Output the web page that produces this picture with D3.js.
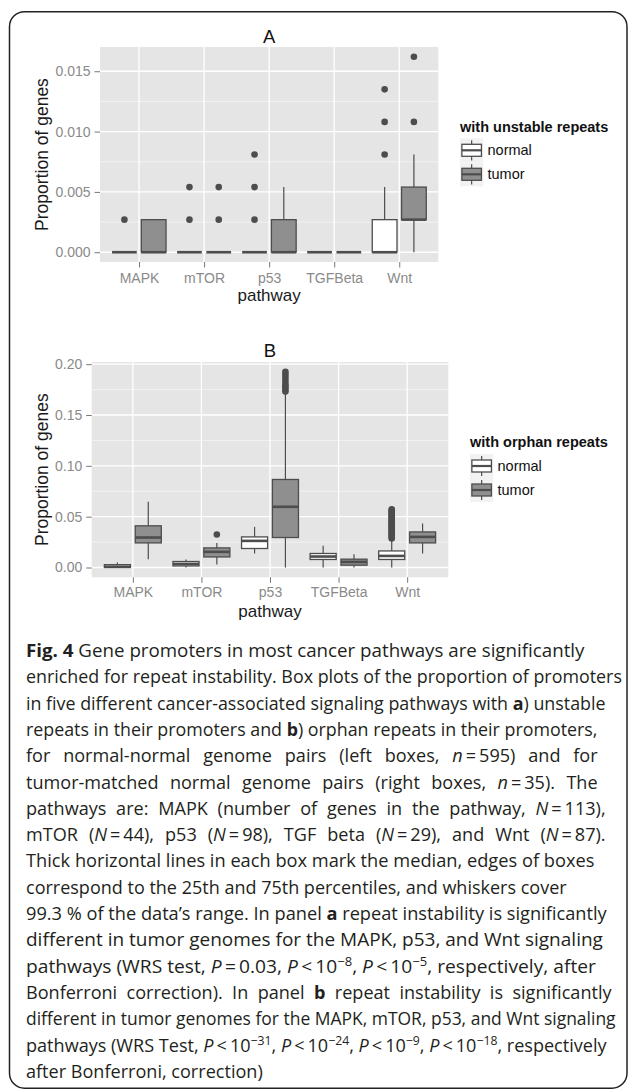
<!DOCTYPE html>
<html>
<head>
<meta charset="utf-8">
<script src="https://cdn.jsdelivr.net/npm/d3@7"></script>
<style>
  body { margin: 0; background: #fff; }
  svg text { font-family: "Liberation Sans", Arial, sans-serif; }
  .cap text { font-family: "Open Sans", sans-serif; }
</style>
</head>
<body>
<svg id="fig" width="629" height="1090"></svg>
<script>
// ---- data ----
const pathways = ["MAPK", "mTOR", "p53", "TGFBeta", "Wnt"];
const groups = ["normal", "tumor"];

// panel A: [lower whisker, q1, median, q3, upper whisker]
const unstableNormal = [
  [0, 0, 0, 0, 0],
  [0, 0, 0, 0, 0],
  [0, 0, 0, 0, 0],
  [0, 0, 0, 0, 0],
  [0, 0, 0, 0.0027, 0.0054]
];
const unstableTumor = [
  [0, 0, 0, 0.0027, 0.0027],
  [0, 0, 0, 0, 0],
  [0, 0, 0, 0.0027, 0.0054],
  [0, 0, 0, 0, 0],
  [0, 0.0027, 0.0027, 0.0054, 0.0081]
];
const unstableNormalOut = [[0.0027], [0.0027, 0.0054], [0.0027, 0.0054, 0.0081], [], [0.0081, 0.0108, 0.0135]];
const unstableTumorOut = [[], [0.0027, 0.0054], [], [], [0.0108, 0.0162]];

// panel B
const orphanNormal = [
  [0, 0, 0.0008, 0.0028, 0.005],
  [0, 0.0016, 0.0035, 0.0059, 0.0079],
  [0.0138, 0.0187, 0.0262, 0.0301, 0.040],
  [0, 0.0079, 0.0108, 0.0138, 0.0213],
  [0, 0.0079, 0.0114, 0.0163, 0.0269]
];
const orphanTumor = [
  [0.0082, 0.0242, 0.0295, 0.041, 0.0646],
  [0.003, 0.0104, 0.0154, 0.0193, 0.0242],
  [0, 0.0295, 0.0597, 0.0866, 0.171],
  [0, 0.0023, 0.0055, 0.0082, 0.0131],
  [0.0138, 0.0242, 0.0301, 0.035, 0.0433]
];
const orphanNormalOut = [[], [], [], [],
  [0.0285, 0.0298, 0.031, 0.0322, 0.0335, 0.0345, 0.0357, 0.037, 0.0381, 0.0393, 0.0405, 0.0417, 0.043,
   0.0441, 0.0453, 0.0465, 0.0477, 0.049, 0.0502, 0.0514, 0.0526, 0.0538, 0.055, 0.0562, 0.0572]];
const orphanTumorOut = [[], [0.0325], [0.173, 0.175, 0.177, 0.179, 0.181, 0.184, 0.187, 0.19, 0.1925], [], []];

const ticksA = [0, 0.005, 0.010, 0.015];
const minorA = [0.0025, 0.0075, 0.0125];
const ticksB = [0, 0.05, 0.10, 0.15, 0.20];
const minorB = [0.025, 0.075, 0.125, 0.175];

const captionLines = [
  [["Fig. 4", "b"], [" Gene promoters in most cancer pathways are significantly"]],
  [["enriched for repeat instability. Box plots of the proportion of promoters"]],
  [["in five different cancer-associated signaling pathways with "], ["a", "b"], [") unstable"]],
  [["repeats in their promoters and "], ["b", "b"], [") orphan repeats in their promoters,"]],
  [["for normal-normal genome pairs (left boxes, "], ["n", "i"], ["\u2009=\u2009595) and for"]],
  [["tumor-matched normal genome pairs (right boxes, "], ["n", "i"], ["\u2009=\u200935). The"]],
  [["pathways are: MAPK (number of genes in the pathway, "], ["N", "i"], ["\u2009=\u2009113),"]],
  [["mTOR ("], ["N", "i"], ["\u2009=\u200944), p53 ("], ["N", "i"], ["\u2009=\u200998), TGF beta ("], ["N", "i"], ["\u2009=\u200929), and Wnt ("], ["N", "i"], ["\u2009=\u200987)."]],
  [["Thick horizontal lines in each box mark the median, edges of boxes"]],
  [["correspond to the 25th and 75th percentiles, and whiskers cover"]],
  [["99.3 % of the data\u2019s range. In panel "], ["a", "b"], [" repeat instability is significantly"]],
  [["different in tumor genomes for the MAPK, p53, and Wnt signaling"]],
  [["pathways (WRS test, "], ["P", "i"], ["\u2009=\u20090.03, "], ["P", "i"], ["\u2009<\u200910"], ["\u22128", "s"], [", "], ["P", "i"], ["\u2009<\u200910"], ["\u22125", "s"], [", respectively, after"]],
  [["Bonferroni correction). In panel "], ["b", "b"], [" repeat instability is significantly"]],
  [["different in tumor genomes for the MAPK, mTOR, p53, and Wnt signaling"]],
  [["pathways (WRS Test, "], ["P", "i"], ["\u2009<\u200910"], ["\u221231", "s"], [", "], ["P", "i"], ["\u2009<\u200910"], ["\u221224", "s"], [", "], ["P", "i"], ["\u2009<\u200910"], ["\u22129", "s"], [", "], ["P", "i"], ["\u2009<\u200910"], ["\u221218", "s"], [", respectively"]],
  [["after Bonferroni, correction)"]]
];
// right end of each caption line (last line ragged)
const captionEnds = [585, 622, 606, 598, 598, 598, 606, 606, 595, 567, 607, 603, 596, 612, 616, 607, null];
// lines set with visibly stretched word spacing
const captionStretched = [4, 5, 6, 7, 13];

// ---- drawing ----
const svg = d3.select("#fig");
svg.append("rect").attr("width", 629).attr("height", 1090).attr("fill", "#fff");
svg.append("rect")
  .attr("x", 9.5).attr("y", 11.7).attr("width", 617.5).attr("height", 1076.5)
  .attr("rx", 15).attr("fill", "none").attr("stroke", "#222").attr("stroke-width", 1.5);

function drawPanel(p) {
  const g = svg.append("g");
  const x = d3.scalePoint().domain(pathways).range([p.left, p.right]).padding(0.6);
  const all = [].concat(...p.normal, ...p.tumor, ...p.normalOut, ...p.tumorOut);
  const [mn, mx] = d3.extent(all);
  const pad = (mx - mn) * 0.05;
  const y = d3.scaleLinear().domain([mn - pad, mx + pad]).range([p.bottom, p.top]);
  const step = x.step();

  g.append("rect")
    .attr("x", p.left).attr("y", p.top)
    .attr("width", p.right - p.left).attr("height", p.bottom - p.top)
    .attr("fill", "#e5e5e5");

  g.selectAll(".minor").data(p.minor).join("line")
    .attr("x1", p.left).attr("x2", p.right)
    .attr("y1", d => y(d)).attr("y2", d => y(d))
    .attr("stroke", "#f2f2f2").attr("stroke-width", 1);
  g.selectAll(".major").data(p.ticks).join("line")
    .attr("x1", p.left).attr("x2", p.right)
    .attr("y1", d => y(d)).attr("y2", d => y(d))
    .attr("stroke", "#fff").attr("stroke-width", 1.3);
  g.selectAll(".vgrid").data(pathways).join("line")
    .attr("x1", d => x(d)).attr("x2", d => x(d))
    .attr("y1", p.top).attr("y2", p.bottom)
    .attr("stroke", "#fff").attr("stroke-width", 1.3);

  const series = [
    { stats: p.normal, out: p.normalOut, fill: "#ffffff", off: -0.225 },
    { stats: p.tumor, out: p.tumorOut, fill: "#8f8f8f", off: 0.225 }
  ];
  const bw = 0.38 * step;
  const stroke = "#4d4d4d";
  series.forEach(s => {
    s.stats.forEach((st, i) => {
      const cx = x(pathways[i]) + s.off * step;
      const [lo, q1, med, q3, hi] = st;
      g.append("line").attr("x1", cx).attr("x2", cx).attr("y1", y(lo)).attr("y2", y(q1))
        .attr("stroke", stroke).attr("stroke-width", 1.2);
      g.append("line").attr("x1", cx).attr("x2", cx).attr("y1", y(q3)).attr("y2", y(hi))
        .attr("stroke", stroke).attr("stroke-width", 1.2);
      g.append("rect").attr("x", cx - bw / 2).attr("y", y(q3))
        .attr("width", bw).attr("height", y(q1) - y(q3))
        .attr("fill", s.fill).attr("stroke", stroke).attr("stroke-width", 1.3);
      g.append("line").attr("x1", cx - bw / 2).attr("x2", cx + bw / 2)
        .attr("y1", y(med)).attr("y2", y(med))
        .attr("stroke", stroke).attr("stroke-width", 2.6);
      g.selectAll(null).data(s.out[i]).join("circle")
        .attr("cx", cx).attr("cy", d => y(d)).attr("r", 3.3)
        .attr("fill", "#4d4d4d");
    });
  });

  const yAxis = g.append("g").attr("transform", `translate(${p.left},0)`)
    .call(d3.axisLeft(y).tickValues(p.ticks).tickFormat(d3.format(p.fmt)).tickSize(5.5).tickPadding(4));
  const xAxis = g.append("g").attr("transform", `translate(0,${p.bottom})`)
    .call(d3.axisBottom(x).tickSize(5.5).tickPadding(p.xPad));
  [yAxis, xAxis].forEach(a => {
    a.select(".domain").remove();
    a.selectAll(".tick line").attr("stroke", "#777").attr("stroke-width", 1);
    a.selectAll(".tick text").attr("fill", "#8a8a8a").attr("font-size", 14)
      .attr("font-family", '"Liberation Sans", Arial, sans-serif');
  });

  g.append("text").attr("x", (p.left + p.right) / 2).attr("y", p.titleY)
    .attr("text-anchor", "middle").attr("font-size", 18.5).attr("fill", "#111").text(p.title);
  g.append("text").attr("x", (p.left + p.right) / 2).attr("y", p.xTitleY)
    .attr("text-anchor", "middle").attr("font-size", 17).attr("fill", "#1a1a1a").text("pathway");
  g.append("text")
    .attr("transform", `translate(48,${(p.top + p.bottom) / 2}) rotate(-90)`)
    .attr("text-anchor", "middle").attr("font-size", 17.5).attr("fill", "#1a1a1a")
    .text("Proportion of genes");

  // legend
  const lg = g.append("g");
  lg.append("text").attr("x", p.legX).attr("y", p.legTitleY)
    .attr("font-size", 14.5).attr("font-weight", "bold").attr("fill", "#111").text(p.legTitle);
  const kw = 23.3, kh = 24;
  groups.forEach((grp, i) => {
    const ky = p.legKeyY + i * kh;
    const kx = p.legX;
    lg.append("rect").attr("x", kx).attr("y", ky).attr("width", kw).attr("height", kh).attr("fill", "#f2f2f2");
    lg.append("line").attr("x1", kx + kw / 2).attr("x2", kx + kw / 2)
      .attr("y1", ky + kh * 0.08).attr("y2", ky + kh * 0.92)
      .attr("stroke", stroke).attr("stroke-width", 1.2);
    lg.append("rect").attr("x", kx + kw * 0.08).attr("y", ky + kh * 0.25)
      .attr("width", kw * 0.84).attr("height", kh * 0.5)
      .attr("fill", series[i].fill).attr("stroke", stroke).attr("stroke-width", 1.3);
    lg.append("line").attr("x1", kx + kw * 0.08).attr("x2", kx + kw * 0.92)
      .attr("y1", ky + kh / 2).attr("y2", ky + kh / 2)
      .attr("stroke", stroke).attr("stroke-width", 2.2);
    lg.append("text").attr("x", kx + 27.5).attr("y", ky + kh / 2 + 5)
      .attr("font-size", 14.5).attr("fill", "#111").text(grp);
  });
}

drawPanel({
  title: "A", titleY: 42.7, xTitleY: 300.7,
  left: 100, right: 438.3, top: 47, bottom: 262,
  normal: unstableNormal, tumor: unstableTumor,
  normalOut: unstableNormalOut, tumorOut: unstableTumorOut,
  ticks: ticksA, minor: minorA, fmt: ".3f", xPad: 5.3,
  legTitle: "with unstable repeats", legX: 460, legTitleY: 132, legKeyY: 138.3
});

drawPanel({
  title: "B", titleY: 357.3, xTitleY: 616.5,
  left: 91.7, right: 448.3, top: 362, bottom: 577.3,
  normal: orphanNormal, tumor: orphanTumor,
  normalOut: orphanNormalOut, tumorOut: orphanTumorOut,
  ticks: ticksB, minor: minorB, fmt: ".2f", xPad: 4.5,
  legTitle: "with orphan repeats", legX: 470, legTitleY: 446.7, legKeyY: 454
});

// ---- caption ----
const capLeft = 26, capTop = 657, capLead = 26.3;
const capG = svg.append("g").attr("class", "cap");
const lineNodes = captionLines.map(segs => {
  const t = capG.append("text").attr("font-size", 18.5).attr("fill", "#231f20");
  let sup = false;
  segs.forEach(([str, st]) => {
    const ts = t.append("tspan").text(str);
    if (st === "b") ts.attr("font-weight", "bold");
    if (st === "i") ts.attr("font-style", "italic");
    if (st === "s") { ts.attr("font-size", 12.5).attr("dy", -7); sup = true; }
    else if (sup) { ts.attr("dy", 7); sup = false; }
  });
  return t;
});
const widths = lineNodes.map(t => t.node().getComputedTextLength());
const plainRatios = widths
  .map((w, i) => captionEnds[i] && !captionStretched.includes(i) ? (captionEnds[i] - capLeft) / w : null)
  .filter(r => r !== null);
const sBase = d3.median(plainRatios);
lineNodes.forEach((t, i) => {
  const spaces = (t.text().match(/ /g) || []).length;
  let s = sBase, ws = 0;
  if (captionEnds[i]) {
    const target = captionEnds[i] - capLeft;
    if (captionStretched.includes(i)) {
      s = Math.min(sBase, target / widths[i]);
      ws = spaces ? (target / s - widths[i]) / spaces : 0;
    } else {
      s = target / widths[i];
    }
  }
  t.style("word-spacing", ws + "px")
    .attr("transform", `translate(${capLeft},${capTop + i * capLead}) scale(${s},1)`);
});
</script>
</body>
</html>
